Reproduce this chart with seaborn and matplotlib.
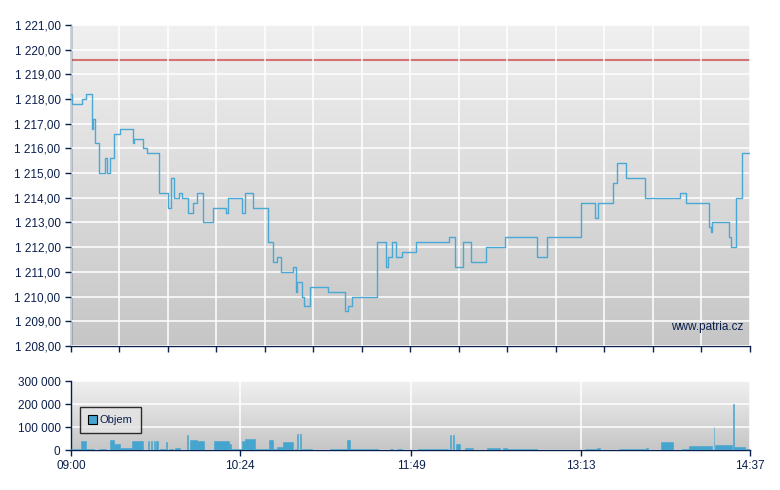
import numpy as np
import pandas as pd
import matplotlib
matplotlib.use("Agg")
import matplotlib.pyplot as plt
import seaborn as sns
from matplotlib.ticker import FuncFormatter

# price trace (minutes after 09:00, price), step changes
price_min = [0, 0.5, 5.5, 7.4, 10.4, 10.9, 11.9, 13.9, 16.9, 17.9, 19.4, 21.3, 24.3,
             30.8, 31.3, 35.7, 37.7, 43.7, 48.1, 49.6, 51.1, 53.6, 55.1, 58.1, 60.5,
             62.5, 65.5, 70.5, 76.9, 77.9, 84.9, 86.4, 90.3, 97.8, 100.3, 102.2, 104.2,
             110.2, 111.7, 112.2, 114.6, 115.6, 118.6, 127.5, 136.0, 137.5, 139.5, 151.9,
             156.3, 157.3, 159.3, 161.3, 164.3, 171.2, 187.6, 190.6, 194.6, 198.5, 206.0,
             215.4, 231.3, 236.2, 253.1, 260.1, 261.5, 269.0, 271.0, 275.4, 284.9, 302.2,
             305.2, 316.6, 317.6, 318.1, 326.6, 327.6, 330.0, 333.0, 337.0]
price_val = [1218.2, 1217.8, 1218.0, 1218.2, 1216.8, 1217.2, 1216.2, 1215.0, 1215.6, 1215.0,
             1215.6, 1216.6, 1216.8, 1216.2, 1216.4, 1216.0, 1215.8, 1214.2, 1213.6, 1214.8,
             1214.0, 1214.2, 1214.0, 1213.4, 1213.8, 1214.2, 1213.0, 1213.6, 1213.4, 1214.0,
             1213.4, 1214.2, 1213.6, 1212.2, 1211.4, 1211.6, 1211.0, 1211.2, 1210.2, 1210.6,
             1210.0, 1209.6, 1210.4, 1210.2, 1209.4, 1209.6, 1210.0, 1212.2, 1211.2, 1211.6,
             1212.2, 1211.6, 1211.8, 1212.2, 1212.4, 1211.2, 1212.2, 1211.4, 1212.0, 1212.4,
             1211.6, 1212.4, 1213.8, 1213.2, 1213.8, 1214.6, 1215.4, 1214.8, 1214.0, 1214.2,
             1213.8, 1212.8, 1212.6, 1213.0, 1212.4, 1212.0, 1214.0, 1215.8, 1215.8]
prev_close = 1219.6

# volume bars: start minute, end minute, volume
vol_start = [0, 5.2, 7.4, 13.9, 19.4, 21.3, 24.3, 30.5, 38.2, 39.6, 41.0, 42.4, 44.2, 47.4,
             48.6, 51.6, 57.8, 59.1, 62.3, 71.0, 78.4, 79.6, 84.9, 86.4, 91.3, 98.3, 100.3,
             102.5, 105.0, 111.2, 112.4, 113.6, 114.6, 128.5, 137.0, 138.5, 158.3, 162.0,
             172.0, 188.1, 189.6, 191.1, 195.5, 206.7, 214.6, 216.6, 255.1, 261.3, 272.0,
             285.6, 292.8, 303.5, 306.7, 318.9, 319.6, 328.5, 329.0, 334.5]
vol_end = [4.96, 7.4, 11.2, 17.4, 21.3, 24.3, 30.5, 35.5, 38.8, 40.2, 41.6, 43.2, 46.6, 47.8,
           50.4, 54.1, 58.2, 62.3, 66.0, 78.4, 79.6, 84.9, 86.4, 91.3, 98.3, 100.3, 102.5,
           105.0, 110.0, 111.6, 112.9, 114.1, 119.4, 137.0, 138.5, 152.6, 159.6, 164.5,
           186.9, 188.7, 190.2, 193.1, 199.3, 212.9, 216.6, 231.5, 261.3, 262.5, 284.9,
           286.6, 299.0, 306.7, 318.4, 319.3, 328.3, 328.9, 334.5, 337.0]
vol_val = [5000, 40000, 5000, 5000, 45000, 28000, 10000, 40000, 40000, 40000, 40000, 40000,
           5000, 35000, 5000, 10000, 65000, 45000, 40000, 40000, 28000, 5000, 40000, 48000,
           3000, 45000, 5000, 15000, 35000, 5000, 70000, 70000, 5000, 3000, 45000, 3000,
           3000, 3000, 3000, 65000, 65000, 28000, 10000, 8000, 8000, 3000, 3000, 10000,
           3000, 10000, 35000, 3000, 18000, 100000, 22000, 200000, 12000, 3000]

time_ticks = [0, 84, 169, 253, 337]
time_labels = ["09:00", "10:24", "11:49", "13:13", "14:37"]

sns.set_style("white")
plt.rcParams['font.family'] = ['Liberation Sans', 'DejaVu Sans']

navy = "#0b1f4d"
blue = "#45a5cf"

fig = plt.figure(figsize=(7.8, 4.9), dpi=100)
ax = fig.add_axes([0.091, 0.294, 0.8705, 0.655])
axv = fig.add_axes([0.091, 0.0816, 0.8705, 0.1408])

grad = np.linspace(0, 1, 256).reshape(-1, 1)
for a in (ax, axv):
    a.imshow(grad, aspect="auto", cmap=matplotlib.colors.LinearSegmentedColormap.from_list(
        "bg", ["#f0f0f0", "#c6c6c6"]), extent=[0, 1, 0, 1], transform=a.transAxes, zorder=0)
    for s in ("top", "right"):
        a.spines[s].set_visible(False)
    for s in ("left", "bottom"):
        a.spines[s].set_color(navy)
        a.spines[s].set_linewidth(1.0)
    a.tick_params(axis="both", colors=navy, labelcolor=navy, labelsize=8.5,
                  direction="out", length=4, width=1, left=True, bottom=True)
    a.set_xlim(0, 337)

df = pd.DataFrame({"t": price_min, "p": price_val})
sns.lineplot(data=df, x="t", y="p", ax=ax, drawstyle="steps-post", color="#4aa8d4",
             lw=1.0, zorder=3)
ax.axhline(prev_close, color="#d05555", lw=1.5, alpha=0.8, zorder=2)
ax.set_ylim(1208, 1221)
ax.set_yticks(np.arange(1208, 1222, 1))
ax.set_xticks(np.linspace(0, 337, 15))
ax.set_xticklabels([])
ax.yaxis.set_major_formatter(FuncFormatter(
    lambda v, p: f"{int(v)//1000} {int(v)%1000:03d},00"))
ax.grid(True, color="white", lw=1.1, zorder=1)
ax.set_axisbelow(False)
ax.set_xlabel("")
ax.set_ylabel("")
ax.text(0.99, 0.06, "www.patria.cz", transform=ax.transAxes, ha="right", va="center",
        color=navy, fontsize=8.5, zorder=4)

widths = [e - s for s, e in zip(vol_start, vol_end)]
axv.bar(vol_start, vol_val, width=widths, align="edge", color=blue, edgecolor=blue,
        lw=0.4, zorder=3, label="Objem")
axv.set_ylim(0, 300000)
axv.set_yticks([0, 100000, 200000, 300000])
axv.yaxis.set_major_formatter(FuncFormatter(
    lambda v, p: "0" if v == 0 else f"{int(v)//1000} {int(v)%1000:03d}"))
axv.set_xticks(time_ticks)
axv.set_xticklabels(time_labels)
axv.grid(True, color="white", lw=1.1, zorder=1)
leg = axv.legend(loc="upper left", bbox_to_anchor=(0.005, 0.7), frameon=True, fancybox=False,
                 edgecolor="black", fontsize=8, handlelength=0.8, handleheight=0.8,
                 borderpad=0.7, handletextpad=0.3, labelcolor=navy)
leg.get_frame().set_facecolor("#e4e4e4")
leg.get_frame().set_linewidth(1)
for h in leg.legend_handles:
    h.set_edgecolor("black")
    h.set_linewidth(0.8)

fig.savefig("out.png", dpi=100)
